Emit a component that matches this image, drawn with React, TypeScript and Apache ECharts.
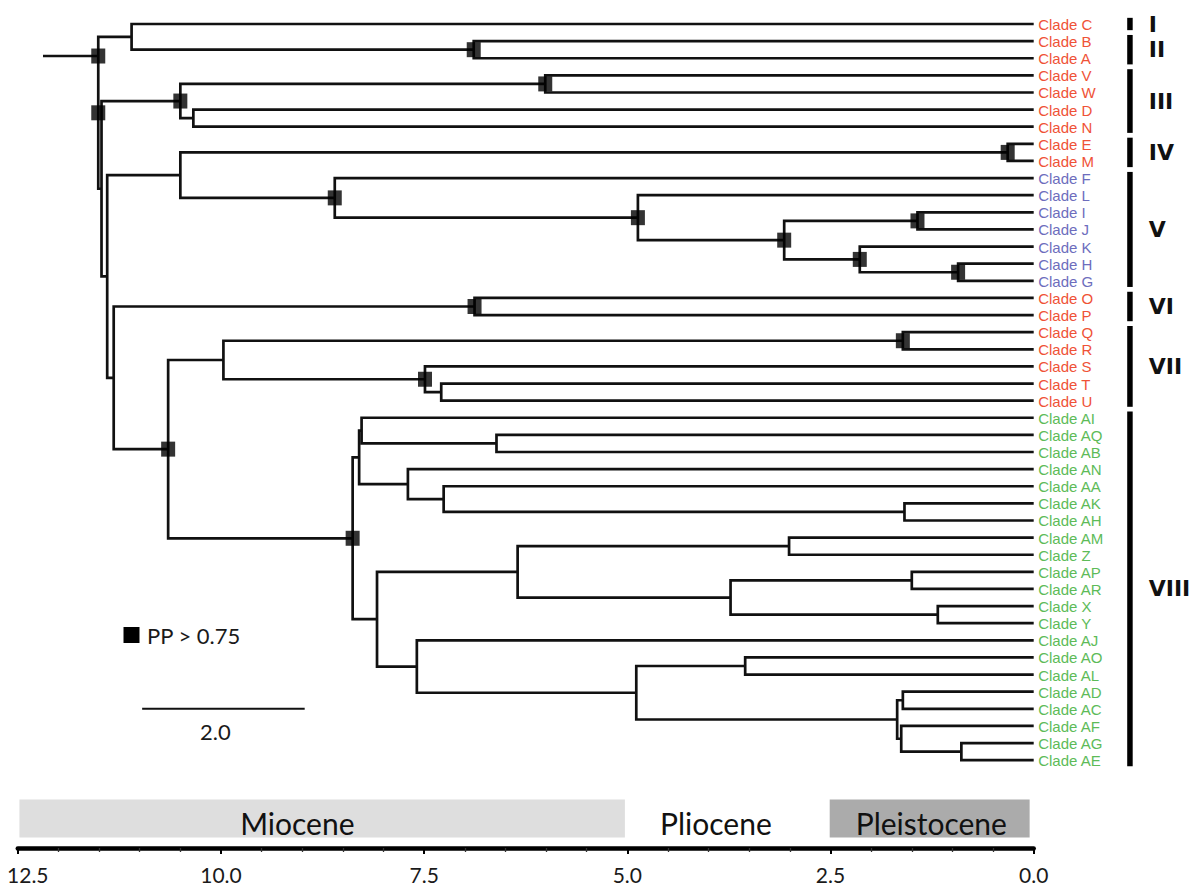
import React, { useEffect, useRef } from "react";
import * as echarts from "echarts";

// ---------- data ----------
const leaves = [
  "C", "B", "A", "V", "W", "D", "N", "E", "M", "F", "L", "I", "J", "K", "H", "G",
  "O", "P", "Q", "R", "S", "T", "U", "AI", "AQ", "AB", "AN", "AA", "AK", "AH",
  "AM", "Z", "AP", "AR", "X", "Y", "AJ", "AO", "AL", "AD", "AC", "AF", "AG", "AE",
];
const blueLeaves = ["F", "L", "I", "J", "K", "H", "G"];
const greenLeaves = [
  "AI", "AQ", "AB", "AN", "AA", "AK", "AH", "AM", "Z", "AP", "AR", "X", "Y",
  "AJ", "AO", "AL", "AD", "AC", "AF", "AG", "AE",
];

// internal nodes in post-order: [id, child 1, child 2, age (Ma), PP > 0.75 ?]
const nodes: [string, string, string, number, number][] = [
  ["BA", "B", "A", 6.89, 1],
  ["CBA", "C", "BA", 11.1, 0],
  ["VW", "V", "W", 6.01, 1],
  ["DN", "D", "N", 10.34, 0],
  ["III", "VW", "DN", 10.5, 1],
  ["EM", "E", "M", 0.32, 1],
  ["HG", "H", "G", 0.93, 1],
  ["KHG", "K", "HG", 2.14, 1],
  ["IJ", "I", "J", 1.43, 1],
  ["IJKHG", "IJ", "KHG", 3.07, 1],
  ["LG", "L", "IJKHG", 4.87, 1],
  ["Vc", "F", "LG", 8.6, 1],
  ["IVV", "EM", "Vc", 10.5, 0],
  ["OP", "O", "P", 6.88, 1],
  ["QR", "Q", "R", 1.61, 1],
  ["TU", "T", "U", 7.29, 0],
  ["STU", "S", "TU", 7.49, 1],
  ["VIIc", "QR", "STU", 9.97, 0],
  ["AQAB", "AQ", "AB", 6.61, 0],
  ["AIAB", "AI", "AQAB", 8.27, 0],
  ["AKAH", "AK", "AH", 1.59, 0],
  ["AAAH", "AA", "AKAH", 7.26, 0],
  ["ANAH", "AN", "AAAH", 7.7, 0],
  ["VIIIa", "AIAB", "ANAH", 8.3, 0],
  ["AMZ", "AM", "Z", 3.01, 0],
  ["APAR", "AP", "AR", 1.5, 0],
  ["XY", "X", "Y", 1.18, 0],
  ["APY", "APAR", "XY", 3.73, 0],
  ["AMY", "AMZ", "APY", 6.35, 0],
  ["AOAL", "AO", "AL", 3.55, 0],
  ["ADAC", "AD", "AC", 1.61, 0],
  ["AGAE", "AG", "AE", 0.89, 0],
  ["AFAE", "AF", "AGAE", 1.63, 0],
  ["ADAE", "ADAC", "AFAE", 1.68, 0],
  ["AOAE", "AOAL", "ADAE", 4.89, 0],
  ["AJAE", "AJ", "AOAE", 7.59, 0],
  ["VIIIb", "AMY", "AJAE", 8.08, 0],
  ["VIIIc", "VIIIa", "VIIIb", 8.38, 1],
  ["VIIVIII", "VIIc", "VIIIc", 10.65, 1],
  ["VIVIII", "OP", "VIIVIII", 11.32, 0],
  ["IVVIII", "IVV", "VIVIII", 11.4, 0],
  ["IIIVIII", "III", "IVVIII", 11.47, 0],
  ["root", "CBA", "IIIVIII", 11.51, 1],
];
const rootStemStart = 12.19;
const rootStemRow = 1.87;

const cladeNumerals = ["I", "II", "III", "IV", "V", "VI", "VII", "VIII"];
const cladeFrom = ["C", "B", "V", "E", "F", "O", "Q", "AI"];
const cladeTo = ["C", "A", "N", "M", "G", "P", "U", "AE"];

const epochNames = ["Miocene", "Pliocene", "Pleistocene"];
const epochStart = [12.48, 5.03, 2.51];
const epochEnd = [5.03, 2.51, 0.05];
const epochLabelAt = [9.06, 3.91, 1.26];

const scaleBarFrom = 10.97;
const scaleBarLength = 2.0;
const scaleBarRow = 40;

const legendLabel = "PP > 0.75";

// ---------- derived layout ----------
const rowOf: Record<string, number> = {};
const ageOf: Record<string, number> = {};
leaves.forEach((l, i) => {
  rowOf[l] = i;
  ageOf[l] = 0;
});
nodes.forEach(([id, a, b, age]) => {
  rowOf[id] = (rowOf[a] + rowOf[b]) / 2;
  ageOf[id] = age;
});
const rootAge = ageOf["root"];

const segments: number[][][] = nodes.map(([id, a, b]) => [
  [ageOf[a], rowOf[a]],
  [ageOf[id], rowOf[a]],
  [ageOf[id], rowOf[b]],
  [ageOf[b], rowOf[b]],
]);
segments.push([
  [rootStemStart, rootStemRow],
  [rootAge, rootStemRow],
]);

const markerData: number[][] = nodes
  .filter((n) => n[4] === 1)
  .map(([id]) => [ageOf[id], rowOf[id]]);
markerData.push([rootAge, rootStemRow]);

const RED = "#ef5237";
const BLUE = "#6d6dbd";
const GREEN = "#5dbb58";
const leafColor = (l: string) =>
  blueLeaves.includes(l) ? BLUE : greenLeaves.includes(l) ? GREEN : RED;

const FONT = "Lato, 'Open Sans', sans-serif";
const TIP_FONT = "'Liberation Sans', Arial, sans-serif";
const Y_MAX = 48.13;

const epochFills = ["#dedede", "none", "#ababab"];

function buildOption(): any {
  return {
    animation: false,
    backgroundColor: "#ffffff",
    grid: {
      left: 17.8,
      right: 157.3,
      top: 24,
      bottom: 40,
      containLabel: false,
      outerBoundsMode: "none",
    },
    xAxis: {
      type: "value",
      inverse: true,
      min: 0,
      max: 12.5,
      interval: 2.5,
      position: "bottom",
      axisLine: { show: true, onZero: false, lineStyle: { color: "#000", width: 4.5, cap: "round" } },
      axisTick: { show: true, length: 6, lineStyle: { color: "#000", width: 2 } },
      minorTick: { show: true, splitNumber: 5, length: 4, lineStyle: { color: "#333", width: 1.3 } },
      splitLine: { show: false },
      axisLabel: {
        margin: 16,
        fontSize: 21,
        fontFamily: FONT,
        color: "#1a1a1a",
        formatter: (v: number) => (v === 12.5 ? "{first|12.5}" : v.toFixed(1)),
        rich: {
          first: { padding: [0, 0, 0, 20], fontSize: 21, fontFamily: FONT, color: "#1a1a1a" },
        },
      },
    },
    yAxis: {
      type: "value",
      inverse: true,
      min: 0,
      max: Y_MAX,
      show: false,
    },
    graphic: [
      {
        type: "rect",
        shape: { x: 123.5, y: 627, width: 16, height: 16 },
        style: { fill: "#000" },
      },
      {
        type: "text",
        x: 147,
        y: 635,
        style: {
          text: legendLabel,
          fill: "#1a1a1a",
          font: `22px ${FONT}`,
          verticalAlign: "middle",
          align: "left",
        },
      },
    ],
    series: [
      {
        type: "custom",
        name: "epochs",
        z: 1,
        data: epochNames.map((_, i) => [epochLabelAt[i], Y_MAX]),
        renderItem: (params: any, api: any) => {
          const i = params.dataIndex;
          const [x1, axisY] = api.coord([epochStart[i], Y_MAX]);
          const [x2] = api.coord([epochEnd[i], Y_MAX]);
          const [xl] = api.coord([epochLabelAt[i], Y_MAX]);
          const children: any[] = [];
          if (epochFills[i] !== "none") {
            children.push({
              type: "rect",
              shape: { x: x1, y: axisY - 48.5, width: x2 - x1, height: 38 },
              style: { fill: epochFills[i] },
            });
          }
          children.push({
            type: "text",
            x: xl,
            y: axisY - 25,
            style: {
              text: epochNames[i],
              fill: "#111",
              font: `30px ${FONT}`,
              align: "center",
              verticalAlign: "middle",
            },
          });
          return { type: "group", children };
        },
      },
      {
        type: "custom",
        name: "tree",
        z: 3,
        data: segments.map((s) => s[0]),
        renderItem: (params: any, api: any) => {
          const pts = segments[params.dataIndex].map((p) => api.coord(p));
          return {
            type: "polyline",
            shape: { points: pts },
            style: { stroke: "#111", lineWidth: 2.7, fill: "none", lineJoin: "miter" },
          };
        },
      },
      {
        type: "scatter",
        name: "PP",
        z: 5,
        symbol: "rect",
        symbolSize: [14, 15],
        itemStyle: { color: "#000" },
        silent: true,
        data: markerData,
      },
      {
        type: "custom",
        name: "tips",
        z: 4,
        data: leaves.map((_, i) => [0, i]),
        renderItem: (params: any, api: any) => {
          const l = leaves[params.dataIndex];
          const [x, y] = api.coord([0, params.dataIndex]);
          return {
            type: "text",
            x: x + 4.5,
            y: y + 0.5,
            style: {
              text: "Clade " + l,
              fill: leafColor(l),
              font: `15px ${TIP_FONT}`,
              align: "left",
              verticalAlign: "middle",
            },
          };
        },
      },
      {
        type: "custom",
        name: "clades",
        z: 4,
        data: cladeNumerals.map((_, i) => [0, rowOf[cladeFrom[i]]]),
        renderItem: (params: any, api: any) => {
          const i = params.dataIndex;
          const [tipX, y1] = api.coord([0, rowOf[cladeFrom[i]] - 0.36]);
          const [, y2] = api.coord([0, rowOf[cladeTo[i]] + 0.36]);
          return {
            type: "group",
            children: [
              {
                type: "rect",
                shape: { x: tipX + 93.5, y: y1, width: 5.5, height: y2 - y1 },
                style: { fill: "#000" },
              },
              {
                type: "text",
                x: tipX + 115,
                y: (y1 + y2) / 2,
                style: {
                  text: cladeNumerals[i],
                  fill: "#111",
                  font: "bold 22px 'DejaVu Sans', sans-serif",
                  align: "left",
                  verticalAlign: "middle",
                },
              },
            ],
          };
        },
      },
      {
        type: "custom",
        name: "scale",
        z: 4,
        data: [[scaleBarFrom, scaleBarRow]],
        renderItem: (params: any, api: any) => {
          const [x1, y] = api.coord([scaleBarFrom, scaleBarRow]);
          const [x2] = api.coord([scaleBarFrom - scaleBarLength, scaleBarRow]);
          return {
            type: "group",
            children: [
              {
                type: "line",
                shape: { x1, y1: y, x2, y2: y },
                style: { stroke: "#111", lineWidth: 2 },
              },
              {
                type: "text",
                x: (x1 + x2) / 2 - 8,
                y: y + 23,
                style: {
                  text: scaleBarLength.toFixed(1),
                  fill: "#1a1a1a",
                  font: `22px ${FONT}`,
                  align: "center",
                  verticalAlign: "middle",
                },
              },
            ],
          };
        },
      },
    ],
  };
}

export default function App() {
  const ref = useRef<HTMLDivElement>(null);
  useEffect(() => {
    if (!ref.current) return;
    const chart = echarts.init(ref.current, null, { renderer: "svg" });
    chart.setOption(buildOption());
    return () => {
      chart.dispose();
    };
  }, []);
  return (
    <div
      ref={ref}
      style={{
        position: "fixed",
        left: 0,
        top: 0,
        width: 1191,
        height: 888,
        background: "#ffffff",
      }}
    />
  );
}
